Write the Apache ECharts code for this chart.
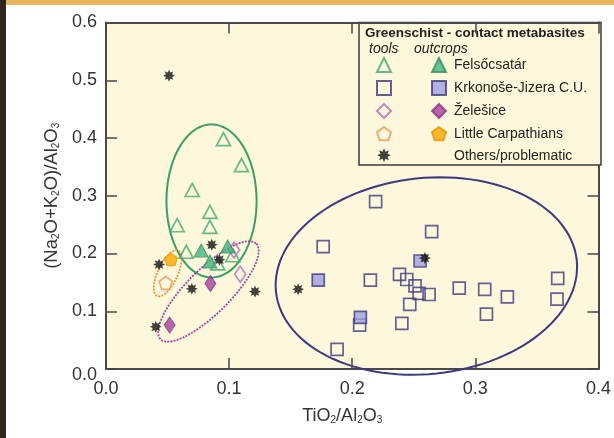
<!DOCTYPE html>
<html>
<head>
<meta charset="utf-8">
<script src="https://cdn.jsdelivr.net/npm/echarts@6/dist/echarts.min.js"></script>
<style>
  html, body { margin: 0; padding: 0; background: #fff; }
  #main { width: 614px; height: 438px; }
</style>
</head>
<body>
<div id="main"></div>
<script>
// axis ticks
const xTicks = [0, 0.1, 0.2, 0.3, 0.4]
const yTicks = [0, 0.1, 0.2, 0.3, 0.4, 0.5, 0.6]

// Felsőcsatár
const felsoTools = [[0.0954, 0.398], [0.110, 0.353], [0.070, 0.310], [0.0844, 0.272], [0.0578, 0.249],
  [0.0844, 0.246], [0.0652, 0.203], [0.0907, 0.183], [0.103, 0.197]]
const felsoOutcrops = [[0.0773, 0.205], [0.0844, 0.186], [0.0988, 0.212]]
// Krkonoše-Jizera C.U.
const krkTools = [[0.219, 0.290], [0.2645, 0.238], [0.1764, 0.212], [0.2147, 0.154], [0.2384, 0.164],
  [0.2443, 0.155], [0.251, 0.144], [0.2543, 0.131], [0.2624, 0.129], [0.2467, 0.112], [0.2403, 0.079],
  [0.206, 0.076], [0.1877, 0.034], [0.2869, 0.140], [0.3076, 0.138], [0.326, 0.125], [0.309, 0.095],
  [0.3669, 0.157], [0.3663, 0.121]]
const krkOutcrops = [[0.1724, 0.154], [0.2066, 0.0895], [0.2551, 0.187]]
// Želešice
const zelTools = [[0.104, 0.206], [0.109, 0.164]]
const zelOutcrops = [[0.0848, 0.148], [0.0517, 0.076]]
// Little Carpathians
const lcTools = [[0.0485, 0.149]]
const lcOutcrops = [[0.0528, 0.190]]
// Others/problematic
const others = [[0.0512, 0.508], [0.0431, 0.181], [0.0859, 0.215], [0.0921, 0.189], [0.0697, 0.139],
  [0.121, 0.134], [0.0404, 0.073], [0.156, 0.138], [0.259, 0.192]]

// field ellipses: cx, cy, rx, ry (data units), rotation (deg)
const ellipseGreen = [0.0857, 0.291, 0.0366, 0.1325, 0]
const ellipseBlue = [0.2602, 0.161, 0.1228, 0.1697, 6]
const ellipsePurple = [0.0832, 0.1342, 0.0549, 0.0381, 45]
const ellipseOrange = [0.0501, 0.1657, 0.00808, 0.0433, -25]

const FONT = 'Liberation Sans, Arial, Helvetica, sans-serif'
const GREEN = '#3a9e68'
const NAVY = '#3d3b7e'
const PURPLE = '#a4489f'
const ORANGE = '#e8963a'

const ellipseStyles = [
  { stroke: GREEN, lineWidth: 2 },
  { stroke: NAVY, lineWidth: 2 },
  { stroke: PURPLE, lineWidth: 1.8, lineDash: [2, 1.2] },
  { stroke: ORANGE, lineWidth: 1.8, lineDash: [2, 1.2] }
]

// asterisk glyph
function starSymbol (n, inner) {
  let d = ''
  for (let i = 0; i < 2 * n; i++) {
    const r = i % 2 ? inner : 1
    const a = i * Math.PI / n - Math.PI / 2
    d += (i ? 'L' : 'M') + (r * Math.cos(a)).toFixed(3) + ',' + (r * Math.sin(a)).toFixed(3)
  }
  return 'path://' + d + 'Z'
}
const PENTAGON = 'path://M0,-1L0.951,-0.309L0.588,0.809L-0.588,0.809L-0.951,-0.309Z'
const STAR = starSymbol(8, 0.55)

function openStyle (c) {
  return { color: 'rgba(0,0,0,0)', borderColor: c, borderWidth: 1.7 }
}

function scatter (name, data, symbol, size, itemStyle) {
  return {
    name: name,
    type: 'scatter',
    data: data,
    symbol: symbol,
    symbolSize: size,
    itemStyle: itemStyle,
    emphasis: { disabled: true }
  }
}

const chart = echarts.init(document.getElementById('main'))

const axisCommon = {
  type: 'value',
  axisLine: { show: true, onZero: false, lineStyle: { color: '#4a4a4a', width: 2 } },
  axisTick: { show: true, inside: true, length: 11, lineStyle: { color: '#444', width: 1.5 } },
  splitLine: { show: false }
}

const option = {
  animation: false,
  textStyle: { fontFamily: FONT },
  grid: {
    left: 106,
    right: 13,
    top: 22.5,
    bottom: 69,
    show: true,
    backgroundColor: '#fdf8dc',
    borderWidth: 0
  },
  xAxis: [
    Object.assign({}, axisCommon, {
      min: xTicks[0],
      max: xTicks[xTicks.length - 1],
      interval: 0.1,
      name: 'TiO{s|2}/Al{s|2}O{s|3}',
      nameLocation: 'middle',
      nameGap: 38,
      nameTextStyle: {
        fontSize: 18,
        color: '#333',
        padding: [0, 20, 0, 0],
        rich: { s: { fontSize: 10, verticalAlign: 'bottom', color: '#333' } }
      },
      axisLabel: {
        fontSize: 18,
        color: '#333',
        margin: 11,
        formatter: v => v.toFixed(1)
      }
    }),
    Object.assign({}, axisCommon, {
      position: 'top',
      min: xTicks[0],
      max: xTicks[xTicks.length - 1],
      interval: 0.1,
      axisLabel: { show: false },
      z: 6
    })
  ],
  yAxis: [
    Object.assign({}, axisCommon, {
      min: yTicks[0],
      max: yTicks[yTicks.length - 1],
      interval: 0.1,
      name: '(Na{s|2}O+K{s|2}O)/Al{s|2}O{s|3}',
      nameLocation: 'middle',
      nameGap: 44,
      nameTextStyle: {
        fontSize: 18.5,
        color: '#333',
        rich: { s: { fontSize: 10, verticalAlign: 'bottom', color: '#333' } }
      },
      axisLabel: {
        fontSize: 18,
        color: '#333',
        margin: 9,
        formatter: v => v === 0 ? '{low|0.0}' : v.toFixed(1),
        rich: { low: { fontSize: 18, color: '#333', padding: [12, 0, 0, 0] } }
      }
    }),
    Object.assign({}, axisCommon, {
      position: 'right',
      min: yTicks[0],
      max: yTicks[yTicks.length - 1],
      interval: 0.1,
      axisLabel: { show: false }
    })
  ],
  legend: [
    {
      data: ['Felsőcsatár tools', 'Krkonoše-Jizera C.U. tools', 'Želešice tools', 'Little Carpathians tools', 'Others/problematic'],
      orient: 'vertical',
      left: 376,
      top: 57,
      padding: 0,
      itemWidth: 14,
      itemHeight: 14,
      itemGap: 7,
      selectedMode: false,
      formatter: () => '',
      textStyle: { fontSize: 14, lineHeight: 15 },
      z: 5
    },
    {
      data: ['Felsőcsatár', 'Krkonoše-Jizera C.U.', 'Želešice', 'Little Carpathians',
        { name: 'Others/problematic', itemStyle: { color: 'rgba(0,0,0,0)', borderColor: 'rgba(0,0,0,0)', borderWidth: 0 } }],
      orient: 'vertical',
      left: 431,
      top: 57,
      padding: 0,
      itemWidth: 14,
      itemHeight: 14,
      itemGap: 7,
      selectedMode: false,
      textStyle: { fontSize: 14, lineHeight: 15, color: '#222', padding: [0, 0, 0, 3] },
      z: 5
    }
  ],
  graphic: [
    // frame of the picture
    { type: 'rect', shape: { x: 0, y: 0, width: 614, height: 5 }, style: { fill: '#e8b75b' }, z: 10 },
    { type: 'rect', shape: { x: 0, y: 0, width: 6, height: 438 }, style: { fill: '#2d2719' }, z: 11 },
    // legend box
    { type: 'rect', shape: { x: 359, y: 22.5, width: 242, height: 142.5 }, style: { fill: '#fdf8dc', stroke: '#3a3a3a', lineWidth: 1.5 }, z: 3 },
    { type: 'text', x: 365, y: 33, style: { text: 'Greenschist - contact metabasites', font: 'bold 13.5px ' + FONT, fill: '#222', verticalAlign: 'middle' }, z: 4 },
    { type: 'text', x: 369, y: 49, style: { text: 'tools', font: 'italic 14px ' + FONT, fill: '#222', verticalAlign: 'middle' }, z: 4 },
    { type: 'text', x: 414, y: 49, style: { text: 'outcrops', font: 'italic 14px ' + FONT, fill: '#222', verticalAlign: 'middle' }, z: 4 }
  ],
  series: [
    {
      type: 'custom',
      name: 'fields',
      data: [ellipseGreen, ellipseBlue, ellipsePurple, ellipseOrange],
      silent: true,
      clip: false,
      z: 1,
      renderItem: function (params, api) {
        const cx = api.value(0)
        const cy = api.value(1)
        const c = api.coord([cx, cy])
        const s = api.size([api.value(2), api.value(3)], [cx, cy])
        const th = api.value(4) * Math.PI / 180
        const pts = []
        for (let k = 0; k < 120; k++) {
          const t = k / 120 * Math.PI * 2
          const dx = s[0] * Math.cos(t)
          const dy = s[1] * Math.sin(t)
          pts.push([c[0] + dx * Math.cos(th) + dy * Math.sin(th), c[1] - dx * Math.sin(th) + dy * Math.cos(th)])
        }
        return {
          type: 'polygon',
          shape: { points: pts },
          style: Object.assign({ fill: 'none' }, ellipseStyles[params.dataIndex])
        }
      }
    },
    scatter('Krkonoše-Jizera C.U. tools', krkTools, 'rect', 12, openStyle(NAVY)),
    scatter('Krkonoše-Jizera C.U.', krkOutcrops, 'rect', 12, { color: '#9c9fe0', borderColor: NAVY, borderWidth: 1.7 }),
    scatter('Felsőcsatár tools', felsoTools, 'triangle', [14, 13], openStyle('#3fa872')),
    scatter('Želešice tools', zelTools, 'diamond', [11, 16], openStyle('#b36cb8')),
    scatter('Felsőcsatár', felsoOutcrops, 'triangle', [14, 13], { color: '#45b27e', borderColor: '#2f8f60', borderWidth: 1 }),
    scatter('Želešice', zelOutcrops, 'diamond', [11, 16], { color: '#a4409c', borderColor: '#8e3388', borderWidth: 1 }),
    scatter('Little Carpathians tools', lcTools, PENTAGON, 13, openStyle('#e89a60')),
    scatter('Little Carpathians', lcOutcrops, PENTAGON, 13, { color: '#f6a800', borderColor: '#e99000', borderWidth: 1 }),
    scatter('Others/problematic', others, STAR, 12, { color: '#111' })
  ]
}

chart.setOption(option)
</script>
</body>
</html>
